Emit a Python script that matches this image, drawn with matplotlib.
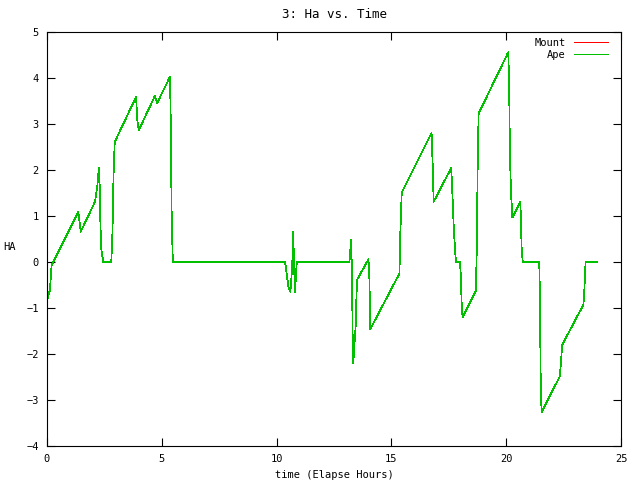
import matplotlib
matplotlib.use('Agg')
import matplotlib.pyplot as plt

# -------------------------[Data]-------------------------
time_h = [0.0, 0.13, 0.2, 1.36, 1.47, 2.09, 2.19, 2.26, 2.30, 2.33, 2.37, 2.45,
          2.8, 2.85, 2.90, 2.95, 3.88, 3.93, 4.0, 4.70, 4.80, 5.36, 5.39, 5.43, 5.48,
          10.37, 10.45, 10.52, 10.6, 10.68, 10.72, 10.77, 10.80, 10.84, 10.88,
          13.17, 13.22, 13.25, 13.29, 13.31, 13.34, 13.38, 13.44, 13.50, 14.0, 14.04, 14.08,
          15.35, 15.38, 15.45, 16.75, 16.80, 16.84, 17.6, 17.64, 17.68, 17.72, 17.78, 17.81,
          17.99, 18.02, 18.06, 18.1, 18.68, 18.72, 18.76, 18.8, 20.09, 20.13, 20.16, 20.21,
          20.27, 20.61, 20.64, 20.67, 20.72, 21.44, 21.47, 21.50, 21.54, 22.34, 22.38, 22.44,
          23.36, 23.40, 23.43, 23.46, 23.94]
ha_ape = [-0.85, -0.6, -0.07, 1.09, 0.66, 1.31, 1.64, 2.04, 1.6, 0.74, 0.26, 0.0,
          0.0, 0.63, 1.93, 2.61, 3.59, 3.09, 2.87, 3.61, 3.46, 4.03, 3.02, 0.98, 0.0,
          0.0, -0.3, -0.55, -0.65, -0.1, 0.66, -0.2, -0.65, -0.32, 0.0,
          0.0, 0.3, 0.48, -0.5, -1.55, -2.2, -1.87, -1.43, -0.39, 0.06, -0.32, -1.46,
          -0.25, 0.5, 1.51, 2.81, 2.07, 1.31, 2.04, 1.71, 1.17, 0.70, 0.22, 0.0,
          0.0, -0.28, -0.9, -1.2, -0.62, 0.33, 2.24, 3.23, 4.56, 3.81, 2.37, 1.5,
          0.97, 1.31, 0.98, 0.33, 0.0, 0.0, -0.83, -2.46, -3.27, -2.48, -2.2, -1.80,
          -0.93, -0.68, -0.25, 0.0, 0.0]
ha_mount = list(ha_ape)
xticks = [0, 5, 10, 15, 20, 25]
yticks = [-4, -3, -2, -1, 0, 1, 2, 3, 4, 5]
# ---------------------------------------------------------

plt.rcParams['font.family'] = 'DejaVu Sans Mono'
plt.rcParams['font.size'] = 7.5

fig = plt.figure(figsize=(6.4, 4.8), dpi=100)
ax = fig.add_axes([47 / 640, 1 - 446 / 480, 574 / 640, 414 / 480])

ax.plot(time_h, ha_mount, color='#ff0000', lw=0.55, label='Mount', antialiased=False)
ax.plot(time_h, ha_ape, color='#00c000', lw=0.55, label='Ape', antialiased=False)

ax.set_xlim(0, 25)
ax.set_ylim(-4, 5)
ax.set_xticks(xticks)
ax.set_yticks(yticks)
ax.tick_params(direction='in', length=6, width=0.8, top=True, right=True,
               labeltop=False, labelright=False)
ax.tick_params(axis='x', pad=6)
ax.tick_params(axis='y', pad=6)
for s in ax.spines.values():
    s.set_linewidth(0.8)

ax.set_title('3: Ha vs. Time', pad=10)
ax.set_xlabel('time (Elapse Hours)', labelpad=4)
ax.set_ylabel('HA', rotation=0, va='center', ha='center')
ax.yaxis.set_label_coords(-37 / 574, (446 - 247) / 414)

leg = ax.legend(loc='upper right', frameon=False, markerfirst=False,
                handlelength=3.2, handletextpad=0.8, labelspacing=0.2,
                borderaxespad=0.3, bbox_to_anchor=(1 - 6 / 574, 1 + 1.5 / 414))
for h in leg.get_lines():
    h.set_linewidth(0.72)
    h.set_antialiased(True)
    h.set_snap(True)

fig.savefig('out.png', dpi=100)
